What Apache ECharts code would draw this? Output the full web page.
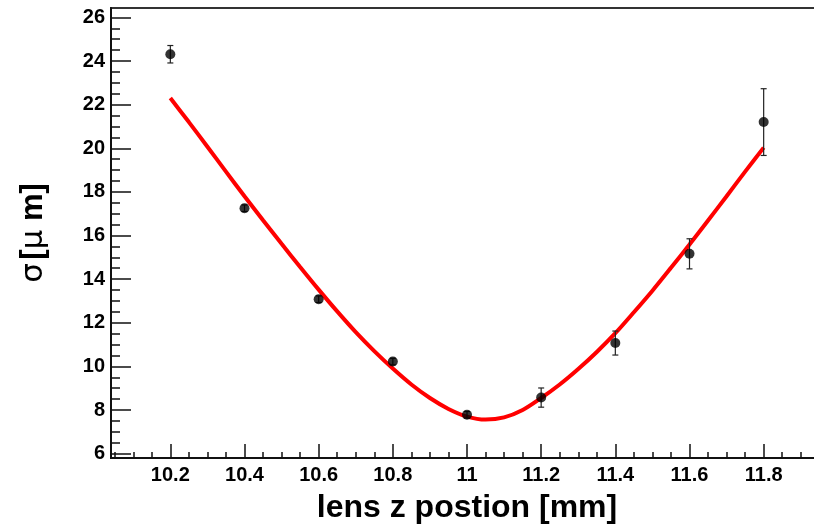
<!DOCTYPE html>
<html>
<head>
<meta charset="utf-8">
<script src="https://cdn.jsdelivr.net/npm/echarts@6/dist/echarts.min.js"></script>
<style>
  html, body { margin: 0; padding: 0; background: #fff; }
  #chart { width: 814px; height: 527px; }
</style>
</head>
<body>
<div id="chart"></div>
<script>
// measured points (lens position, sigma, error)
const zPos   = [10.2, 10.4, 10.6, 10.8, 11.0, 11.2, 11.4, 11.6, 11.8];
const sigma  = [24.31, 17.25, 13.08, 10.22, 7.78, 8.57, 11.07, 15.16, 21.20];
const sigErr = [0.40, 0.15, 0.15, 0.15, 0.15, 0.44, 0.55, 0.69, 1.53];

// fit curve
const fitZ = [10.20, 10.25, 10.30, 10.35, 10.40, 10.45, 10.50, 10.55, 10.60, 10.65,
              10.70, 10.75, 10.80, 10.85, 10.90, 10.95, 11.00, 11.05, 11.10, 11.15,
              11.20, 11.25, 11.30, 11.35, 11.40, 11.45, 11.50, 11.55, 11.60, 11.65,
              11.70, 11.75, 11.80];
const fitS = [22.30, 21.20, 20.07, 18.93, 17.80, 16.70, 15.62, 14.56, 13.52, 12.52,
              11.57, 10.70, 9.90, 9.17, 8.55, 8.05, 7.70, 7.56, 7.66, 8.00,
              8.55, 9.17, 9.88, 10.66, 11.52, 12.48, 13.47, 14.52, 15.59, 16.69,
              17.80, 18.93, 20.03];

// axis ticks
const xTicks = [10.2, 10.4, 10.6, 10.8, 11.0, 11.2, 11.4, 11.6, 11.8];
const yTicks = [6, 8, 10, 12, 14, 16, 18, 20, 22, 24, 26];

const xMinor = [];
for (let v = 10.05; v < 11.96; v += 0.05) xMinor.push(+v.toFixed(2));
const yMinor = [];
for (let v = 6; v <= 26.01; v += 0.5) yMinor.push(+v.toFixed(1));

const FONT = '"Liberation Sans", Arial, sans-serif';
const X_MIN = 10.04, X_MAX = 11.96, Y_MIN = 5.8, Y_MAX = 26.43;

const chart = echarts.init(document.getElementById('chart'), null, { renderer: 'canvas' });

const lineStyle = { color: '#111', width: 2 };

const option = {
    animation: false,
    backgroundColor: '#fff',
    grid: {
        left: 111, right: -9, top: 8, bottom: 69,
        outerBoundsMode: 'none', containLabel: false,
        show: true, borderColor: '#333', borderWidth: 2, backgroundColor: 'transparent'
    },
    xAxis: [
        {
            type: 'value', min: X_MIN, max: X_MAX, position: 'bottom',
            axisLine: { show: true, lineStyle: lineStyle },
            axisTick: { show: true, inside: true, length: 14, customValues: xTicks, lineStyle: { color: '#111', width: 1.5 } },
            axisLabel: {
                customValues: xTicks, margin: 7,
                fontFamily: FONT, fontWeight: 'bold', fontSize: 20, color: '#000',
                formatter: v => String(+(+v).toFixed(1))
            },
            splitLine: { show: false },
            name: 'lens z postion [mm]', nameLocation: 'middle', nameGap: 34,
            nameTextStyle: { fontFamily: FONT, fontWeight: 'bold', fontSize: 32, color: '#000' }
        },
        {
            type: 'value', min: X_MIN, max: X_MAX, position: 'bottom',
            axisLine: { show: false },
            axisTick: { show: true, inside: true, length: 6, customValues: xMinor, lineStyle: { color: '#111', width: 1.5 } },
            axisLabel: { show: false },
            splitLine: { show: false }
        }
    ],
    yAxis: [
        {
            type: 'value', min: Y_MIN, max: Y_MAX, position: 'left',
            axisLine: { show: true, lineStyle: lineStyle },
            axisTick: { show: true, inside: true, length: 20, customValues: yTicks, lineStyle: { color: '#111', width: 1.5 } },
            axisLabel: {
                customValues: yTicks, margin: 6,
                fontFamily: FONT, fontWeight: 'bold', fontSize: 20, color: '#000'
            },
            splitLine: { show: false },
            name: '{g|σ} {b|[}{g|μ}{b| m]}', nameLocation: 'middle', nameGap: 62, nameRotate: 90,
            nameTextStyle: {
                rich: {
                    g: { fontFamily: '"DejaVu Sans", sans-serif', fontSize: 31, color: '#000' },
                    b: { fontFamily: FONT, fontWeight: 'bold', fontSize: 31, color: '#000' }
                }
            }
        },
        {
            type: 'value', min: Y_MIN, max: Y_MAX, position: 'left',
            axisLine: { show: false },
            axisTick: { show: true, inside: true, length: 9, customValues: yMinor, lineStyle: { color: '#111', width: 1.5 } },
            axisLabel: { show: false },
            splitLine: { show: false }
        }
    ],
    series: [
        {
            name: 'fit', type: 'line', smooth: 0.3, showSymbol: false,
            data: fitZ.map((z, i) => [z, fitS[i]]),
            lineStyle: { color: '#ff0000', width: 4 },
            z: 2
        },
        {
            name: 'errors', type: 'custom',
            data: zPos.map((z, i) => [z, sigma[i] - sigErr[i], sigma[i] + sigErr[i]]),
            renderItem: (params, api) => {
                const lo = api.coord([api.value(0), api.value(1)]);
                const hi = api.coord([api.value(0), api.value(2)]);
                const w = 3;
                const st = { stroke: '#222', lineWidth: 1.2 };
                return {
                    type: 'group',
                    children: [
                        { type: 'line', shape: { x1: lo[0], y1: lo[1], x2: hi[0], y2: hi[1] }, style: st },
                        { type: 'line', shape: { x1: lo[0] - w, y1: lo[1], x2: lo[0] + w, y2: lo[1] }, style: st },
                        { type: 'line', shape: { x1: hi[0] - w, y1: hi[1], x2: hi[0] + w, y2: hi[1] }, style: st }
                    ]
                };
            },
            z: 3
        },
        {
            name: 'data', type: 'scatter', symbol: 'circle', symbolSize: 10,
            data: zPos.map((z, i) => [z, sigma[i]]),
            itemStyle: { color: '#000' },
            z: 4
        }
    ]
};

chart.setOption(option);
</script>
</body>
</html>
